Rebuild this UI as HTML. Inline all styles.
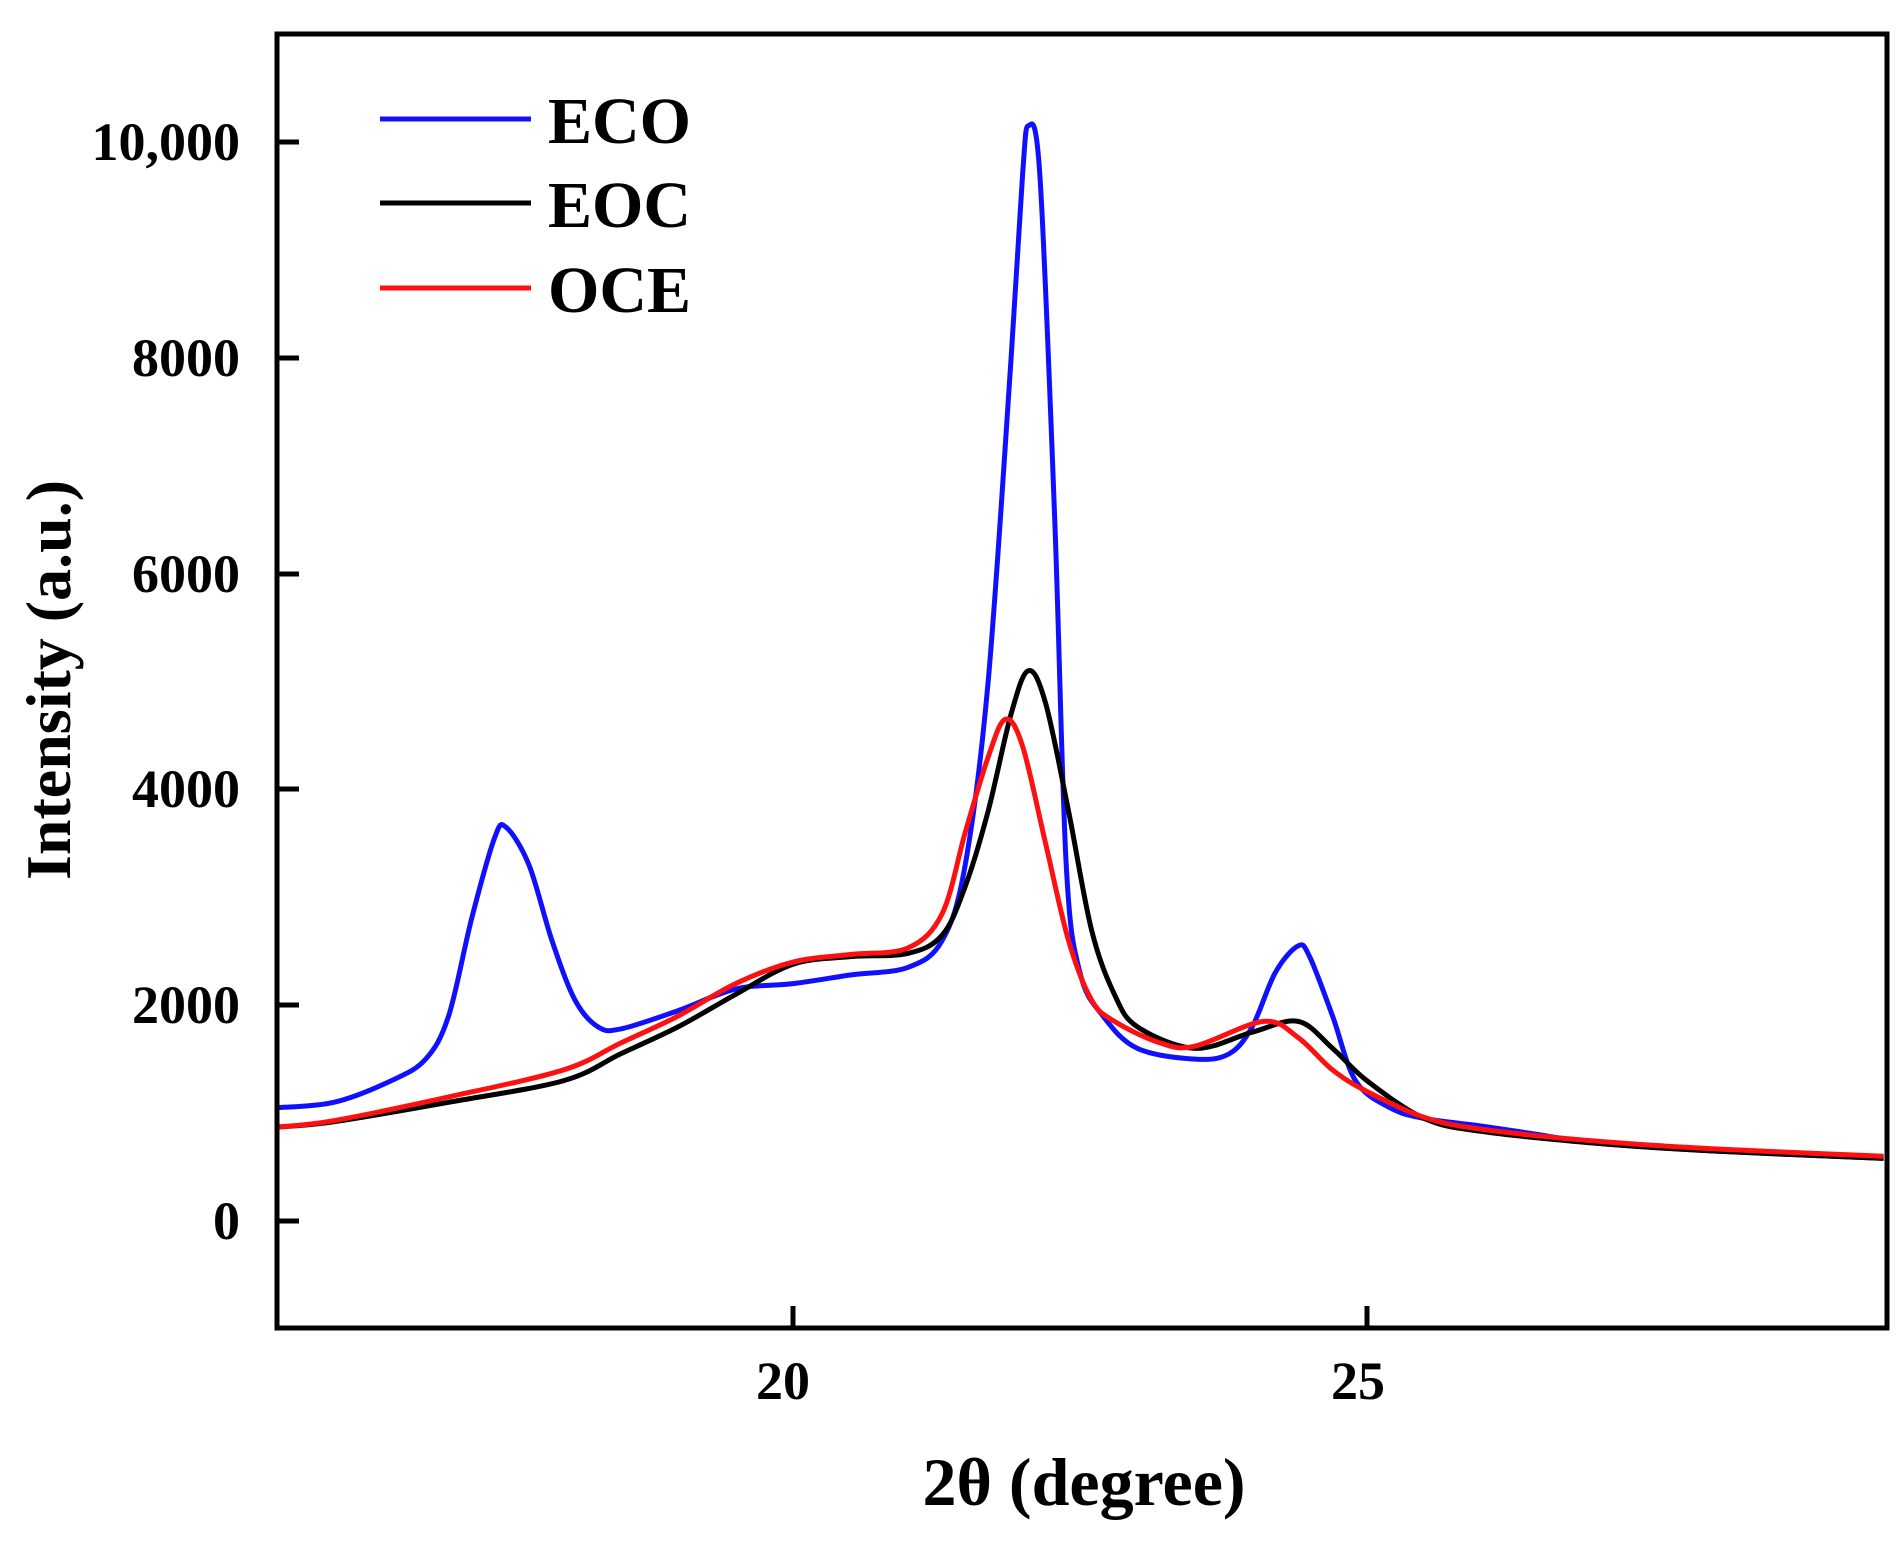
<!DOCTYPE html>
<html><head><meta charset="utf-8"><style>
html,body{margin:0;padding:0;background:#fff;}
svg text{font-family:"Liberation Serif",serif;font-weight:bold;fill:#000;}
</style></head><body>
<svg id="s" width="1899" height="1546" viewBox="0 0 1899 1546" xmlns="http://www.w3.org/2000/svg">
<rect width="1899" height="1546" fill="#fff"/>
<g id="curves" fill="none" stroke-width="5" stroke-linejoin="round"></g>
<rect x="277" y="34" width="1610" height="1294" fill="none" stroke="#000" stroke-width="5"/>
<g stroke="#000" stroke-width="5">
<line x1="277" y1="1221" x2="299" y2="1221"/>
<line x1="277" y1="1005" x2="299" y2="1005"/>
<line x1="277" y1="789" x2="299" y2="789"/>
<line x1="277" y1="574" x2="299" y2="574"/>
<line x1="277" y1="358" x2="299" y2="358"/>
<line x1="277" y1="142" x2="299" y2="142"/>
<line x1="793" y1="1328" x2="793" y2="1306"/>
<line x1="1367" y1="1328" x2="1367" y2="1306"/>
</g>
<g font-size="54" text-anchor="end">
<text x="240" y="1239">0</text>
<text x="240" y="1023">2000</text>
<text x="240" y="807">4000</text>
<text x="240" y="592">6000</text>
<text x="240" y="376">8000</text>
<text x="240" y="160">10,000</text>
</g>
<g font-size="54" text-anchor="middle">
<text x="783" y="1399">20</text>
<text x="1358" y="1399">25</text>
</g>
<text x="1084" y="1505" font-size="68" text-anchor="middle">2θ (degree)</text>
<text transform="translate(70,680) rotate(-90)" font-size="64" text-anchor="middle">Intensity (a.u.)</text>
<g stroke-width="5">
<line x1="380" y1="119" x2="531" y2="119" stroke="#1010ff"/>
<line x1="380" y1="203" x2="531" y2="203" stroke="#000"/>
<line x1="380" y1="288" x2="531" y2="288" stroke="#ff1010"/>
</g>
<g font-size="66">
<text x="548" y="143">ECO</text>
<text x="548" y="227">EOC</text>
<text x="548" y="312">OCE</text>
</g>
</svg>
<script>
var X=function(v){return 793+(v-20)*114.8;},Y=function(v){return 1221-v*0.1079;};
var eco=[[15.5,1050],[16,1100],[16.5,1300],[16.8,1500],[17.0,1900],[17.2,2800],[17.4,3550],[17.5,3650],[17.7,3300],[17.9,2600],[18.1,2050],[18.3,1800],[18.5,1780],[19,1950],[19.5,2150],[20,2200],[20.5,2280],[21,2350],[21.3,2600],[21.5,3300],[21.7,5000],[21.9,8000],[22.0,9700],[22.05,10150],[22.15,9700],[22.28,6500],[22.38,3300],[22.5,2300],[22.7,1900],[23,1600],[23.5,1500],[23.8,1550],[24.0,1800],[24.2,2300],[24.4,2550],[24.5,2450],[24.7,1900],[24.9,1300],[25.2,1050],[25.5,950],[26,880],[26.5,800],[27,720],[28,650],[29.5,580]];
var eoc=[[15.5,870],[16,920],[17,1100],[18,1300],[18.5,1550],[19,1800],[19.5,2100],[20,2380],[20.5,2450],[21,2480],[21.3,2650],[21.5,3100],[21.7,3800],[21.9,4700],[22.05,5100],[22.2,4800],[22.4,3800],[22.6,2700],[22.8,2100],[23.0,1800],[23.5,1600],[24,1750],[24.4,1850],[24.7,1600],[25,1300],[25.5,950],[26,830],[27,720],[28,650],[29.5,580]];
var oce=[[15.5,870],[16,930],[17,1150],[18,1400],[18.5,1650],[19,1900],[19.5,2200],[20,2400],[20.5,2470],[21,2530],[21.3,2850],[21.5,3600],[21.7,4300],[21.85,4650],[22.0,4400],[22.2,3500],[22.4,2600],[22.6,2050],[22.8,1850],[23.2,1650],[23.5,1620],[24.1,1850],[24.4,1700],[24.7,1400],[25,1200],[25.5,960],[26,850],[27,740],[28,670],[29.5,600]];
function path(d){var p=d.map(function(a){return [X(a[0]),Y(a[1])];});var s="M"+p[0][0]+","+p[0][1];
for(var i=0;i<p.length-1;i++){var p0=p[i-1]||p[i],p1=p[i],p2=p[i+1],p3=p[i+2]||p2;
s+=" C"+(p1[0]+(p2[0]-p0[0])/6)+","+(p1[1]+(p2[1]-p0[1])/6)+" "+(p2[0]-(p3[0]-p1[0])/6)+","+(p2[1]-(p3[1]-p1[1])/6)+" "+p2[0]+","+p2[1];}
return s;}
var g=document.getElementById("curves");
[[eco,"#1010ff"],[eoc,"#000"],[oce,"#ff1010"]].forEach(function(c){var e=document.createElementNS("http://www.w3.org/2000/svg","path");e.setAttribute("d",path(c[0]));e.setAttribute("stroke",c[1]);g.appendChild(e);});
</script>
</body></html>
